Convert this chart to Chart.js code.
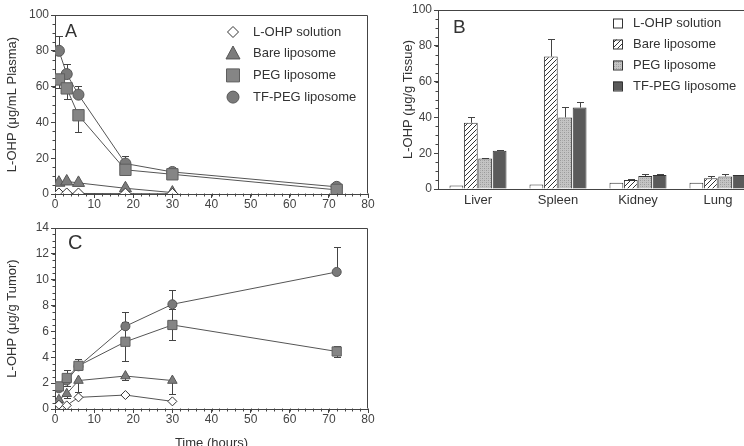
<!DOCTYPE html>
<html>
<head>
<meta charset="utf-8">
<title>L-OHP distribution</title>
<script src="https://cdn.jsdelivr.net/npm/chart.js@4.4.1/dist/chart.umd.min.js"></script>
<style>
  html, body { margin: 0; padding: 0; background: #fff; width: 744px; height: 446px; overflow: hidden; }
  canvas { position: absolute; }
  #plasmaChart { left: 0; top: 0; }
  #tissueChart { left: 396px; top: 0; }
  #tumorChart { left: 0; top: 215px; }
</style>
</head>
<body>
<canvas id="plasmaChart" width="380" height="215"></canvas>
<canvas id="tissueChart" width="380" height="215"></canvas>
<canvas id="tumorChart" width="380" height="240"></canvas>
<script>
// series shared by all panels
const seriesNames = ["L-OHP solution", "Bare liposome", "PEG liposome", "TF-PEG liposome"];
const timePoints = [1, 3, 6, 18, 30, 72];

// A: plasma (ug/mL)
const plasmaSolution = [0.3, 0.3, 0.3, 0.2, 0.1, null];
const plasmaBare = [6.3, 7, 6.2, 3.2, 0.8, null];
const plasmaPEG = [64, 59, 44, 13.5, 11, 2.3];
const plasmaTF = [80, 67, 55.5, 17, 12.3, 4];
const plasmaPEGErr = [5, 6, 9.5, 3, 1.5, 0.5];
const plasmaTFErr = [8, 5.5, 5, 4, 1.5, 0.5];

// B: tissue (ug/g)
const tissues = ["Liver", "Spleen", "Kidney", "Lung"];
const tissueSolution = [2, 2.5, 3.5, 3.5];
const tissueBare = [37, 74, 5, 6];
const tissuePEG = [17, 40, 7.2, 7];
const tissueTF = [21.3, 45.5, 7.8, 7.8];
const tissueBareErr = [3.4, 10, 0.4, 1.4];
const tissuePEGErr = [0.4, 5.6, 1.4, 1.6];
const tissueTFErr = [0.7, 3.2, 0.4, 0.3];

// C: tumor (ug/g)
const tumorSolution = [0.33, 0.28, 0.9, 1.08, 0.59, null];
const tumorBare = [0.72, 1.18, 2.2, 2.55, 2.2, null];
const tumorPEG = [1.75, 2.4, 3.34, 5.2, 6.5, 4.45];
const tumorTF = [1.6, 2.2, 3.3, 6.4, 8.1, 10.6];
const tumorBareErr = [0.2, 0.3, 0.9, 0.3, 1.05, null];
const tumorPEGErr = [0.3, 0.6, 0.3, 1.5, 1.2, 0.4];
const tumorTFErr = [0.2, 0.3, 0.55, 1.1, 1.1, 1.9];

const FONT = "'Liberation Sans', Arial, Helvetica, sans-serif";
const AXIS = "#444";
const TEXT = "#333";

function points(values) {
  return timePoints.map((t, i) => ({ x: t, y: values[i] }));
}

function drawMarker(ctx, style, x, y, r) {
  ctx.beginPath();
  if (style === "circle") {
    ctx.arc(x, y, r, 0, Math.PI * 2);
  } else if (style === "rect") {
    ctx.rect(x - r, y - r, r * 2, r * 2);
  } else if (style === "triangle") {
    ctx.moveTo(x, y - r * 1.1);
    ctx.lineTo(x + r, y + r * 0.75);
    ctx.lineTo(x - r, y + r * 0.75);
    ctx.closePath();
  } else {
    ctx.moveTo(x, y - r);
    ctx.lineTo(x + r, y);
    ctx.lineTo(x, y + r);
    ctx.lineTo(x - r, y);
    ctx.closePath();
  }
  ctx.fill();
  ctx.stroke();
}

function hatchPattern() {
  const c = document.createElement("canvas");
  c.width = 5; c.height = 5;
  const g = c.getContext("2d");
  g.fillStyle = "#fff";
  g.fillRect(0, 0, 5, 5);
  g.strokeStyle = "#333";
  g.lineWidth = 1;
  g.beginPath();
  g.moveTo(-1, 6); g.lineTo(6, -1);
  g.moveTo(-1, 1); g.lineTo(1, -1);
  g.moveTo(4, 6); g.lineTo(6, 4);
  g.stroke();
  return g.createPattern(c, "repeat");
}

function stipplePattern() {
  const c = document.createElement("canvas");
  c.width = 4; c.height = 4;
  const g = c.getContext("2d");
  g.fillStyle = "#c4c4c4";
  g.fillRect(0, 0, 4, 4);
  g.fillStyle = "#9a9a9a";
  g.fillRect(0, 0, 1, 1);
  g.fillRect(2, 2, 1, 1);
  g.fillStyle = "#adadad";
  g.fillRect(2, 0, 1, 1);
  g.fillRect(0, 2, 1, 1);
  return g.createPattern(c, "repeat");
}

// error bars, drawn under the markers
const errorBars = {
  id: "errorBars",
  beforeDatasetsDraw(chart) {
    const ctx = chart.ctx;
    const ys = chart.scales.y;
    ctx.save();
    ctx.strokeStyle = AXIS;
    ctx.lineWidth = 1;
    chart.data.datasets.forEach((ds, di) => {
      if (!ds.errors) return;
      const meta = chart.getDatasetMeta(di);
      meta.data.forEach((el, i) => {
        const raw = ds.data[i];
        const v = raw !== null && typeof raw === "object" ? raw.y : raw;
        const e = ds.errors[i];
        if (v == null || !e) return;
        const x = Math.round(el.x) + 0.5;
        const dirs = ds.errDir === "both" ? [1, -1] : ds.errDir === "down" ? [-1] : [1];
        dirs.forEach(d => {
          const y0 = ys.getPixelForValue(v);
          const y1 = Math.round(ys.getPixelForValue(v + d * e)) + 0.5;
          ctx.beginPath();
          ctx.moveTo(x, y0);
          ctx.lineTo(x, y1);
          ctx.moveTo(x - 3.5, y1);
          ctx.lineTo(x + 3.5, y1);
          ctx.stroke();
        });
      });
    });
    ctx.restore();
  }
};

// box, minor ticks, panel letter and in-plot legend
const panelDecor = {
  id: "panelDecor",
  afterDraw(chart, args, o) {
    const ctx = chart.ctx;
    const a = chart.chartArea;
    const xs = chart.scales.x, ys = chart.scales.y;
    const L = Math.round(a.left) + 0.5, T = Math.round(a.top) + 0.5;
    const R = Math.round(a.right) - 0.5, B = Math.round(a.bottom) - 0.5;
    ctx.save();
    ctx.globalAlpha = 1;
    ctx.strokeStyle = AXIS;
    ctx.lineWidth = 1;

    ctx.beginPath();
    ctx.moveTo(L, T);
    ctx.lineTo(R, T);
    ctx.lineTo(R, B);
    ctx.stroke();

    ctx.beginPath();
    if (o.xMinor) {
      for (let v = xs.min; v <= xs.max + 1e-6; v += o.xMinor) {
        const px = Math.round(xs.getPixelForValue(v)) + 0.5;
        ctx.moveTo(px, B);
        ctx.lineTo(px, B + 3);
      }
    }
    if (o.yMinor) {
      for (let v = ys.min; v <= ys.max + 1e-6; v += o.yMinor) {
        const py = Math.round(ys.getPixelForValue(v)) + 0.5;
        ctx.moveTo(L, py);
        ctx.lineTo(L - 3, py);
      }
    }
    ctx.stroke();

    ctx.fillStyle = TEXT;
    ctx.font = o.letterSize + "px " + FONT;
    ctx.textBaseline = "alphabetic";
    ctx.fillText(o.letter, a.left + o.letterDx, a.top + o.letterDy);

    const lg = o.legend;
    if (lg) {
      ctx.font = "13px " + FONT;
      chart.data.datasets.forEach((ds, i) => {
        const y = lg.y + i * lg.dy;
        if (chart.config.type === "bar") {
          ctx.fillStyle = ds.backgroundColor;
          ctx.strokeStyle = "#333";
          ctx.fillRect(lg.x - 4.5, y - 4.5, 9, 9);
          ctx.strokeRect(lg.x - 4, y - 4, 9, 9);
        } else {
          ctx.fillStyle = ds.pointBackgroundColor;
          ctx.strokeStyle = ds.pointBorderColor;
          drawMarker(ctx, ds.pointStyle, lg.x, y, lg.size[ds.pointStyle]);
        }
        ctx.fillStyle = TEXT;
        ctx.textBaseline = "middle";
        ctx.fillText(ds.label, lg.textX, y);
      });
    }
    ctx.restore();
  }
};

function lineSets(sol, bare, peg, tf, err, sizes) {
  const base = { borderColor: "#555", borderWidth: 1, pointBorderWidth: 1, tension: 0, spanGaps: false };
  return [
    Object.assign({}, base, { label: seriesNames[0], data: points(sol), pointStyle: "rectRot", pointRadius: sizes[0],
      pointBackgroundColor: "#fff", pointBorderColor: "#333", errors: err[0], errDir: "down" }),
    Object.assign({}, base, { label: seriesNames[1], data: points(bare), pointStyle: "triangle", pointRadius: sizes[1],
      pointBackgroundColor: "#7c7c7c", pointBorderColor: "#555", errors: err[1], errDir: "down" }),
    Object.assign({}, base, { label: seriesNames[2], data: points(peg), pointStyle: "rect", pointRadius: sizes[2],
      pointBackgroundColor: "#858585", pointBorderColor: "#5e5e5e", errors: err[2], errDir: err[4] }),
    Object.assign({}, base, { label: seriesNames[3], data: points(tf), pointStyle: "circle", pointRadius: sizes[3],
      pointBackgroundColor: "#7a7a7a", pointBorderColor: "#555", errors: err[3], errDir: "up" })
  ];
}

function timeScale(height, withTitle) {
  return {
    type: "linear", min: 0, max: 80,
    ticks: { stepSize: 10, color: "#444", font: { family: FONT, size: 12, lineHeight: 1 }, padding: 1 },
    grid: { drawOnChartArea: false, drawTicks: true, tickLength: 4, color: AXIS },
    border: { color: AXIS, width: 1 },
    title: { display: withTitle, text: "Time (hours)", color: TEXT, font: { family: FONT, size: 13 }, padding: { top: 0, bottom: 4 } },
    afterFit(scale) { scale.height = height; }
  };
}

function valueScale(max, step, label, width) {
  return {
    min: 0, max: max,
    ticks: { stepSize: step, color: "#444", font: { family: FONT, size: 12 }, padding: 2 },
    grid: { drawOnChartArea: false, drawTicks: true, tickLength: 4, color: AXIS },
    border: { color: AXIS, width: 1 },
    title: { display: true, text: label, color: TEXT, font: { family: FONT, size: 13 }, padding: { top: 5, bottom: 0 } },
    afterFit(scale) { scale.width = width; }
  };
}

const common = { responsive: false, animation: false, events: [] };
const legendSizes = { rectRot: 5.5, triangle: 7, rect: 6.5, circle: 6 };

new Chart(document.getElementById("plasmaChart").getContext("2d"), {
  type: "line",
  data: { datasets: lineSets(plasmaSolution, plasmaBare, plasmaPEG, plasmaTF,
    [null, null, plasmaPEGErr, plasmaTFErr, "down"], [5.5, 7, 8, 5.5]) },
  options: Object.assign({}, common, {
    layout: { padding: { top: 15, right: 12, left: 0, bottom: 0 } },
    plugins: {
      legend: { display: false }, tooltip: { enabled: false },
      panelDecor: { letter: "A", letterSize: 18, letterDx: 10, letterDy: 22, xMinor: 2, yMinor: 5,
        legend: { x: 233, y: 32, dy: 21.7, textX: 253, size: legendSizes } }
    },
    scales: { x: timeScale(21, false), y: valueScale(100, 20, "L-OHP (\u03bcg/mL Plasma)", 55) }
  }),
  plugins: [errorBars, panelDecor]
});

new Chart(document.getElementById("tissueChart").getContext("2d"), {
  type: "bar",
  data: {
    labels: tissues,
    datasets: [
      { label: seriesNames[0], data: tissueSolution, backgroundColor: "#ffffff" },
      { label: seriesNames[1], data: tissueBare, backgroundColor: hatchPattern(), errors: tissueBareErr },
      { label: seriesNames[2], data: tissuePEG, backgroundColor: stipplePattern(), errors: tissuePEGErr },
      { label: seriesNames[3], data: tissueTF, backgroundColor: "#5a5a5a", errors: tissueTFErr }
    ]
  },
  options: Object.assign({}, common, {
    layout: { padding: { top: 10, right: 18, left: 0, bottom: 0 } },
    datasets: { bar: { categoryPercentage: 0.72, barPercentage: 0.96, borderWidth: 1, borderColor: "#333" } },
    plugins: {
      legend: { display: false }, tooltip: { enabled: false },
      panelDecor: { letter: "B", letterSize: 19, letterDx: 15, letterDy: 23, yMinor: 5,
        legend: { x: 221.5, y: 23, dy: 21, textX: 237 } }
    },
    scales: {
      x: {
        ticks: { color: TEXT, font: { family: FONT, size: 13 }, padding: 4 },
        grid: { display: true, drawOnChartArea: false, drawTicks: false },
        border: { color: AXIS, width: 1 },
        afterFit(scale) { scale.height = 26; }
      },
      y: valueScale(100, 20, "L-OHP (\u03bcg/g Tissue)", 42)
    }
  }),
  plugins: [errorBars, panelDecor]
});

new Chart(document.getElementById("tumorChart").getContext("2d"), {
  type: "line",
  data: { datasets: lineSets(tumorSolution, tumorBare, tumorPEG, tumorTF,
    [null, tumorBareErr, tumorPEGErr, tumorTFErr, "both"], [4.5, 5.5, 6.5, 4.5]) },
  options: Object.assign({}, common, {
    layout: { padding: { top: 13, right: 12, left: 0, bottom: 0 } },
    plugins: {
      legend: { display: false }, tooltip: { enabled: false },
      panelDecor: { letter: "C", letterSize: 20, letterDx: 13, letterDy: 21, xMinor: 2, yMinor: 0.5, legend: null }
    },
    scales: { x: timeScale(46, true), y: valueScale(14, 2, "L-OHP (\u03bcg/g Tumor)", 55) }
  }),
  plugins: [errorBars, panelDecor]
});
</script>
</body>
</html>
